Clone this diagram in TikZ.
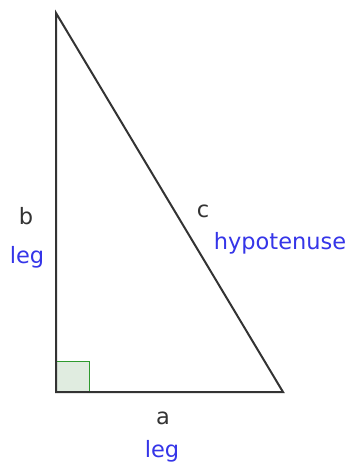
\documentclass[tikz,border=0pt]{standalone}
\usepackage{fontspec}
\setmainfont{DejaVu Sans}
\definecolor{lbl}{HTML}{333333}
\definecolor{legblue}{HTML}{3535E8}
\definecolor{sqgreen}{HTML}{2E9A2E}
\definecolor{sqfill}{HTML}{E0ECE0}
\begin{document}
\begin{tikzpicture}[x=1pt,y=-1pt,
  side/.style={draw=lbl,line width=2pt,line join=miter},
  lettertext/.style={text=lbl,font=\fontsize{22.5}{22.5}\selectfont,inner sep=0pt,anchor=center},
  bluetext/.style={text=legblue,font=\fontsize{22.5}{22.5}\selectfont,inner sep=0pt,anchor=center}]
\useasboundingbox (0,0) rectangle (351,462);
\coordinate (A) at (56,13);
\coordinate (C) at (56,392);
\coordinate (B) at (283,392);
\filldraw[fill=sqfill,draw=sqgreen,line width=1pt] (C) rectangle (89,361);
\draw[side] (A) -- (C) -- (B) -- cycle;
\node[lettertext] (lb) at (26,216) {b};
\node[bluetext] (legb) at (27,257) {leg};
\node[lettertext] (lc) at (203,211) {c};
\node[bluetext] (hyp) at (280,243) {hypotenuse};
\node[lettertext] (la) at (163,418) {a};
\node[bluetext] (lega) at (162,451) {leg};
\end{tikzpicture}
\end{document}
